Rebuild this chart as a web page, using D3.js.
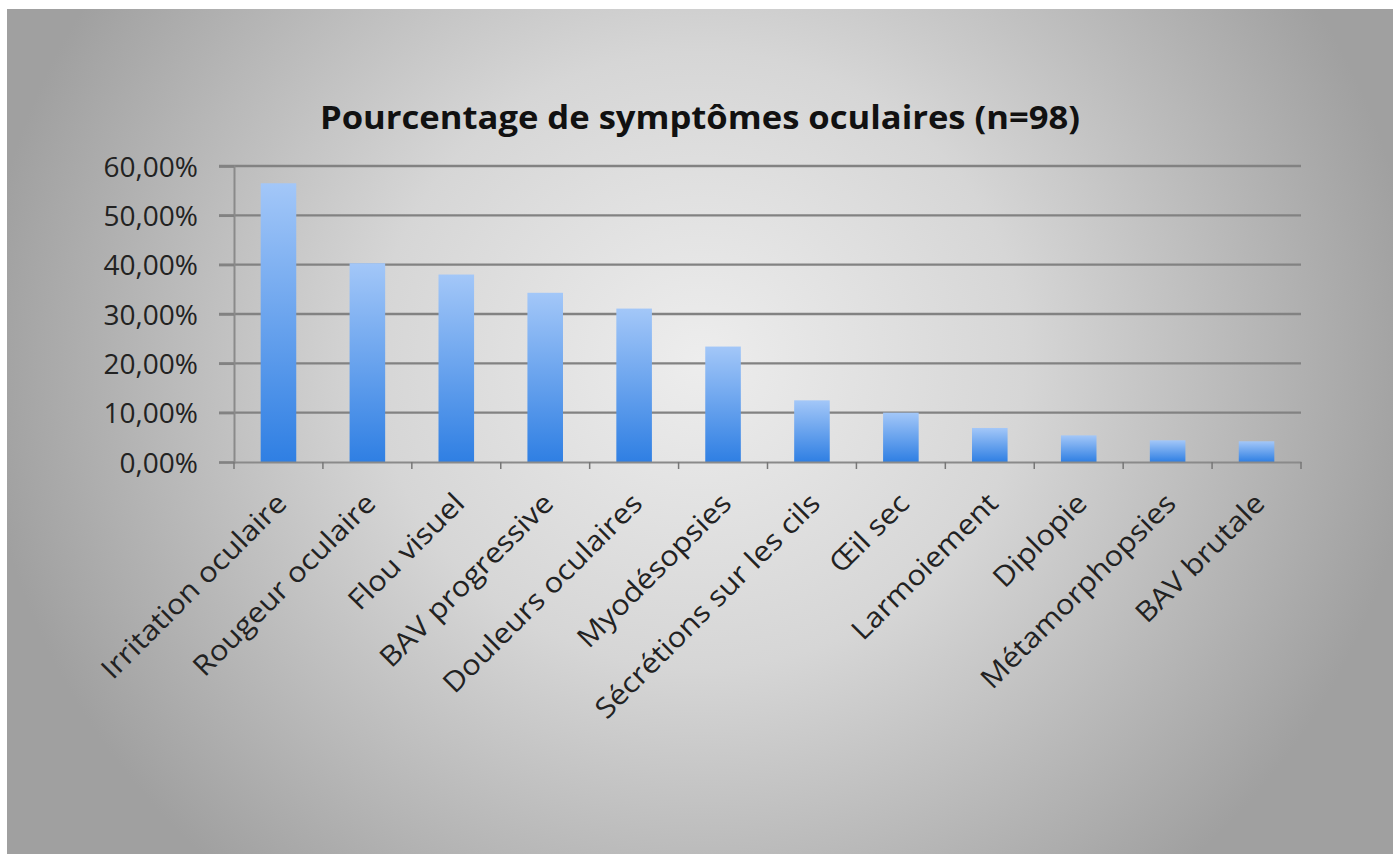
<!DOCTYPE html>
<html><head><meta charset="utf-8">
<script src="https://cdn.jsdelivr.net/npm/d3@7"></script>
<style>html,body{margin:0;padding:0;background:#fff;overflow:hidden}</style>
</head><body><svg id="c" width="1399" height="854"></svg>
<script>
const title = "Pourcentage de symptômes oculaires (n=98)";
const categories = ["Irritation oculaire","Rougeur oculaire","Flou visuel","BAV progressive","Douleurs oculaires","Myodésopsies","Sécrétions sur les cils","Œil sec","Larmoiement","Diplopie","Métamorphopsies","BAV brutale"];
const values = [56.5, 40.3, 38.0, 34.3, 31.1, 23.4, 12.5, 10.0, 6.9, 5.4, 4.4, 4.2];
const yTicks = [0, 10, 20, 30, 40, 50, 60];

const svg = d3.select("#c");
const W = 1399, H = 854;
const plot = {left: 234, right: 1301, top: 166, bottom: 462};

const defs = svg.append("defs");
const bg = defs.append("radialGradient").attr("id","bg").attr("gradientUnits","userSpaceOnUse")
  .attr("cx",700).attr("cy",360).attr("r",720)
  .attr("gradientTransform","translate(700,360) scale(1,0.95) translate(-700,-360)");
bg.append("stop").attr("offset",0).attr("stop-color","#ededed");
bg.append("stop").attr("offset",0.45).attr("stop-color","#d6d6d6");
bg.append("stop").attr("offset",1).attr("stop-color","#a0a0a0");

const bar = defs.append("linearGradient").attr("id","bar").attr("x1",0).attr("y1",0).attr("x2",0).attr("y2",1);
bar.append("stop").attr("offset",0).attr("stop-color","#a3c7f8");
bar.append("stop").attr("offset",1).attr("stop-color","#2f7fe3");

svg.append("rect").attr("x",7).attr("y",9).attr("width",1386).attr("height",H-9).attr("fill","url(#bg)");

const x = d3.scaleBand().domain(categories).range([plot.left, plot.right]).paddingInner(0.6).paddingOuter(0.3);
const xb = d3.scaleBand().domain(categories).range([plot.left, plot.right]);
const y = d3.scaleLinear().domain([0, 60]).range([plot.bottom, plot.top]);

const loc = d3.formatLocale({decimal: ",", thousands: " ", grouping: [3], currency: ["", "€"]});
const fmt = v => loc.format(".2f")(v) + "%";

// gridlines
const grid = svg.append("g");
grid.selectAll("line").data(yTicks.filter(d => d > 0)).join("line")
  .attr("x1", plot.left - 15).attr("x2", plot.right)
  .attr("y1", d => y(d)).attr("y2", d => y(d))
  .attr("stroke", "#828282").attr("stroke-width", 2.4);

// y axis
const yAxis = svg.append("g").attr("transform", `translate(${plot.left},0)`)
  .call(d3.axisLeft(y).tickValues(yTicks).tickFormat(fmt).tickSize(15).tickPadding(21));
yAxis.select(".domain").attr("stroke", "#8a8a8a").attr("stroke-width", 2);
yAxis.selectAll(".tick line").attr("stroke", "#828282").attr("stroke-width", 2.4);
yAxis.selectAll("text").attr("font-family", "'Open Sans', sans-serif").attr("font-size", 28)
  .attr("fill", "#222").attr("dy", "0.36em");

// bars
svg.append("g").selectAll("rect").data(values).join("rect")
  .attr("x", (d, i) => x(categories[i]))
  .attr("width", x.bandwidth())
  .attr("y", d => y(d))
  .attr("height", d => y(0) - y(d))
  .attr("fill", "url(#bar)");

// x axis
const xAxis = svg.append("g").attr("transform", `translate(0,${plot.bottom})`)
  .call(d3.axisBottom(xb).tickSize(0).tickFormat(""));
xAxis.select(".domain").attr("stroke", "#8a8a8a").attr("stroke-width", 2);
xAxis.selectAll(".tick").remove();
const bounds = categories.map(c => xb(c)).concat([plot.right]);
svg.append("g").selectAll("line").data(bounds).join("line")
  .attr("x1", d => d).attr("x2", d => d).attr("y1", plot.bottom).attr("y2", plot.bottom + 7)
  .attr("stroke", "#777").attr("stroke-width", 1.5);

// x labels
svg.append("g").selectAll("text").data(categories).join("text")
  .attr("transform", d => `translate(${xb(d) + xb.bandwidth()/2 + 10},${plot.bottom + 43}) rotate(-45) scale(1.1,1)`)
  .attr("text-anchor", "end")
  .attr("font-family", "'Open Sans', sans-serif").attr("font-size", 28).attr("fill", "#222")
  .text(d => d);

// title
svg.append("text").attr("x", 700).attr("y", 129).attr("text-anchor", "middle")
  .attr("font-family", "'Open Sans', sans-serif").attr("font-weight", "bold").attr("font-size", 33)
  .attr("fill", "#111").attr("textLength", 760).attr("lengthAdjust", "spacingAndGlyphs")
  .text(title);
</script></body></html>
